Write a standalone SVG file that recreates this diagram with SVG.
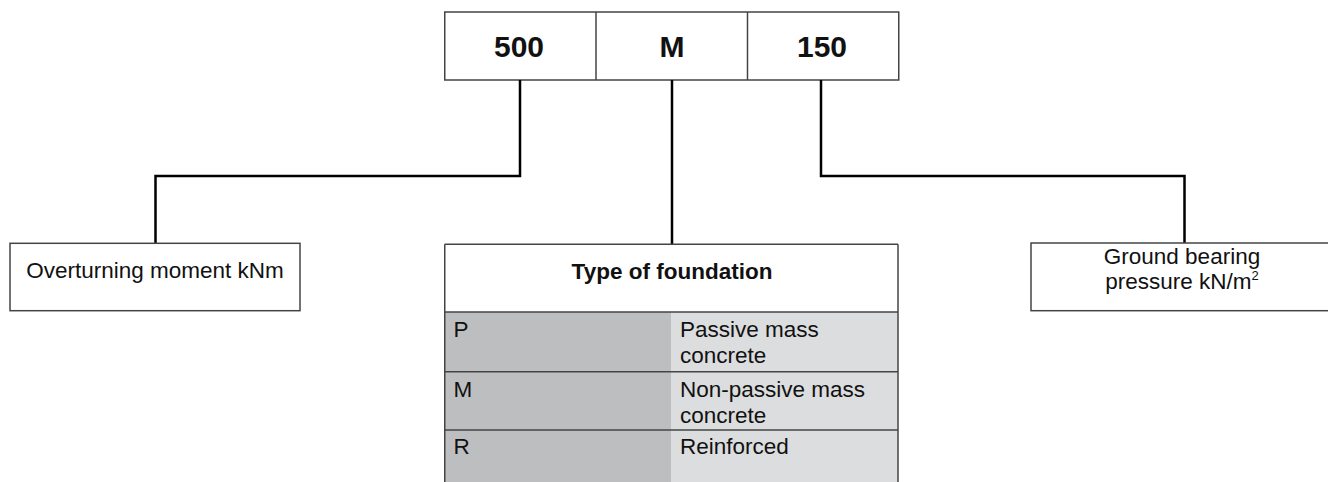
<svg xmlns="http://www.w3.org/2000/svg" width="1328" height="482" viewBox="0 0 1328 482">
  <style>
    .box { fill: #ffffff; stroke: #444444; stroke-width: 1.5; }
    .line { fill: none; stroke: #444444; stroke-width: 1.5; }
    .conn { fill: none; stroke: #000000; stroke-width: 2.5; }
    .t { font-family: "Liberation Sans", Arial, sans-serif; font-size: 22.5px; fill: #111111; }
    .big { font-family: "Liberation Sans", Arial, sans-serif; font-size: 30px; font-weight: bold; fill: #111111; }
    .hdr { font-family: "Liberation Sans", Arial, sans-serif; font-size: 22.5px; font-weight: bold; fill: #111111; }
  </style>
  <rect width="1328" height="482" fill="#ffffff"/>

  <g id="code">
    <rect class="box" x="444.75" y="12" width="454" height="68"/>
    <line class="line" x1="596" y1="12" x2="596" y2="80"/>
    <line class="line" x1="747.5" y1="12" x2="747.5" y2="80"/>
    <text class="big" x="519" y="57" text-anchor="middle">500</text>
    <text class="big" x="672" y="57" text-anchor="middle">M</text>
    <text class="big" x="822" y="57" text-anchor="middle">150</text>
  </g>

  <g id="connectors">
    <polyline class="conn" points="520,80 520,176 155.5,176 155.5,243"/>
    <polyline class="conn" points="672,80 672,244"/>
    <polyline class="conn" points="821,80 821,176 1184.5,176 1184.5,243"/>
  </g>

  <g id="overturning">
    <rect class="box" x="10" y="243.3" width="290" height="67.4"/>
    <text class="t" x="155" y="278" text-anchor="middle">Overturning moment kNm</text>
  </g>

  <g id="foundation">
    <rect x="444.75" y="312" width="226.25" height="180" fill="#bdbec0"/>
    <rect x="671" y="312" width="227" height="180" fill="#dcdddf"/>
    <rect x="444.75" y="244.3" width="453.25" height="67.7" fill="#ffffff"/>
    <line class="line" x1="444.75" y1="244.3" x2="898" y2="244.3"/>
    <line class="line" x1="444.75" y1="244.3" x2="444.75" y2="492"/>
    <line class="line" x1="898" y1="244.3" x2="898" y2="492"/>
    <line class="line" x1="444.75" y1="312" x2="898" y2="312"/>
    <line class="line" x1="444.75" y1="371.7" x2="898" y2="371.7"/>
    <line class="line" x1="444.75" y1="430" x2="898" y2="430"/>
    <text class="hdr" x="672" y="279" text-anchor="middle">Type of foundation</text>
    <text class="t" x="453.5" y="336.5">P</text>
    <text class="t" x="680" y="336.5">Passive mass</text>
    <text class="t" x="680" y="362.5">concrete</text>
    <text class="t" x="453.5" y="396.5">M</text>
    <text class="t" x="680" y="396.5">Non-passive mass</text>
    <text class="t" x="680" y="422.5">concrete</text>
    <text class="t" x="453.5" y="454">R</text>
    <text class="t" x="680" y="454">Reinforced</text>
  </g>

  <g id="bearing">
    <rect class="box" x="1031" y="243" width="310" height="67.7"/>
    <text class="t" x="1182" y="264" text-anchor="middle">Ground bearing</text>
    <text class="t" x="1182" y="289" text-anchor="middle">pressure kN/m<tspan font-size="13" dy="-9">2</tspan></text>
  </g>
</svg>
